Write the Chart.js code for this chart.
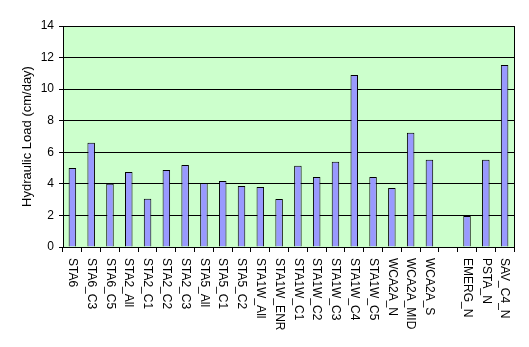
<!DOCTYPE html>
<html>
<head>
<meta charset="utf-8">
<script src="https://cdn.jsdelivr.net/npm/chart.js@4/dist/chart.umd.min.js"></script>
<style>
html,body{margin:0;padding:0;background:#fff;}
canvas{display:block;}
</style>
</head>
<body>
<canvas id="c" width="529" height="347"></canvas>
<script>
const categories = ['STA6','STA6_C3','STA6_C5','STA2_All','STA2_C1','STA2_C2','STA2_C3','STA5_All','STA5_C1','STA5_C2','STA1W_All','STA1W_ENR','STA1W_C1','STA1W_C2','STA1W_C3','STA1W_C4','STA1W_C5','WCA2A_N','WCA2A_MID','WCA2A_S','','EMERG_N','PSTA_N','SAV_C4_N'];
const hydraulicLoad = [5.0,6.6,4.0,4.75,3.05,4.88,5.2,4.06,4.18,3.87,3.8,3.04,5.14,4.44,5.4,10.9,4.44,3.74,7.24,5.52,null,1.97,5.52,11.53];
const yTickValues = [0,2,4,6,8,10,12,14];
const yTitle = 'Hydraulic Load (cm/day)';

const FONT = '"Liberation Sans", Arial, sans-serif';

const plotDeco = {
  id: 'plotDeco',
  beforeDraw(chart) {
    const {ctx, chartArea: a} = chart;
    ctx.save();
    ctx.fillStyle = '#fff';
    ctx.fillRect(0, 0, chart.width, chart.height);
    ctx.fillStyle = '#CCFFCC';
    ctx.fillRect(a.left, a.top, a.right - a.left, a.bottom - a.top);
    ctx.restore();
  },
  afterDraw(chart) {
    const {ctx, chartArea: a} = chart;
    const xs = chart.scales.x;
    ctx.save();
    ctx.strokeStyle = '#000';
    ctx.lineWidth = 1;
    ctx.beginPath();
    ctx.moveTo(Math.round(a.right) + 0.5, a.top);
    ctx.lineTo(Math.round(a.right) + 0.5, a.bottom);
    ctx.stroke();
    ctx.fillStyle = '#000';
    ctx.font = '12px ' + FONT;
    categories.forEach((lab, i) => {
      const x = xs.getPixelForTick(i);
      ctx.save();
      ctx.translate(x, xs.top + 11);
      ctx.rotate(Math.PI / 2);
      ctx.textAlign = 'left';
      ctx.textBaseline = 'middle';
      ctx.fillText(lab, 0, 0);
      ctx.restore();
    });
    ctx.restore();
  }
};

new Chart(document.getElementById('c'), {
  type: 'bar',
  data: {
    labels: categories,
    datasets: [{
      data: hydraulicLoad,
      backgroundColor: '#9999FF',
      borderColor: '#000',
      borderWidth: 1,
      barPercentage: 0.4,
      categoryPercentage: 1.0
    }]
  },
  options: {
    responsive: false,
    animation: false,
    devicePixelRatio: 1,
    layout: { padding: { top: 26, right: 15, left: 0, bottom: 0 } },
    plugins: { legend: { display: false }, tooltip: { enabled: false } },
    scales: {
      x: {
        ticks: { display: false },
        grid: { display: true, drawOnChartArea: false, drawTicks: true, tickLength: 5, color: '#000', offset: true },
        border: { display: true, color: '#000', width: 1 },
        afterFit(s) { s.height = 100; }
      },
      y: {
        min: 0, max: 14,
        afterBuildTicks(s) { s.ticks = yTickValues.map(v => ({ value: v })); },
        ticks: { color: '#000', font: { family: FONT, size: 12 }, padding: 5 },
        grid: { color: '#000', lineWidth: 1, drawTicks: true, tickLength: 4 },
        border: { display: true, color: '#000', width: 1 },
        title: { display: true, text: yTitle, color: '#000', font: { family: FONT, size: 13 }, padding: { top: 20, bottom: 0 } },
        afterFit(s) { s.width = 63; }
      }
    }
  },
  plugins: [plotDeco]
});
</script>
</body>
</html>
